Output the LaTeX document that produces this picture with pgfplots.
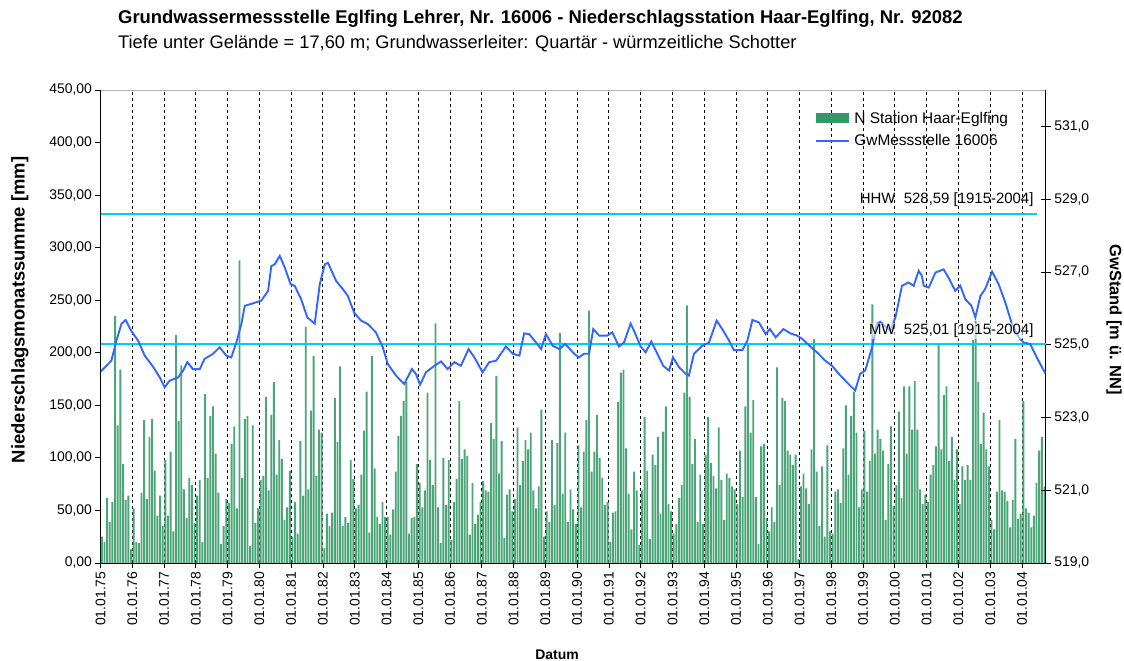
\documentclass[border=0pt]{standalone}
\usepackage{pgfplots}
\pgfplotsset{compat=1.18}
\usepackage{pgfplotstable}
\usepackage{fontspec}
\setmainfont{Liberation Sans}
\definecolor{barGreen}{RGB}{51,153,102}
\definecolor{gwBlue}{RGB}{51,102,255}
\definecolor{refCyan}{RGB}{0,204,255}

\pgfplotstableread{
n
25
20
62
39
58
235
131
184
94
60
64
13
52
20
19
67
136
61
120
137
88
45
64
35
98
45
106
30
217
135
188
70
43
81
74
38
64
79
20
161
81
140
149
104
67
18
35
61
57
113
130
52
288
81
137
140
16
131
38
52
79
83
158
69
141
172
84
117
99
41
53
88
25
58
28
116
64
225
70
145
197
83
127
124
14
47
35
48
157
115
187
35
44
38
98
80
52
55
84
126
163
29
197
90
44
37
58
44
44
27
51
87
121
140
154
172
28
43
44
94
76
53
69
162
98
74
228
53
19
100
55
98
22
58
80
154
99
108
102
27
76
37
46
58
78
69
68
133
118
178
85
116
24
65
70
49
61
129
74
97
117
108
124
69
52
73
146
25
49
39
117
55
114
219
66
124
39
70
51
37
112
53
106
136
240
87
106
141
100
81
55
58
20
48
49
153
181
184
109
66
32
87
69
17
69
139
88
23
103
93
120
47
125
149
56
49
28
37
62
74
162
245
158
94
118
39
84
37
103
139
95
83
71
129
79
41
85
81
73
70
56
107
63
149
208
124
155
63
18
111
113
43
30
53
39
186
74
157
154
107
103
93
103
4
73
85
71
56
108
213
87
35
92
25
112
30
28
68
70
57
109
150
84
140
163
124
53
70
126
68
97
246
104
127
118
107
41
94
130
54
74
144
62
168
104
168
127
173
127
70
56
65
58
84
93
111
208
108
160
168
97
120
79
108
56
92
79
93
79
212
230
172
113
143
108
92
41
32
68
136
69
68
59
34
60
118
42
47
154
52
48
34
45
76
107
120
73
}\bars

\pgfplotstableread{
x y
-0.4 524.26
3.6 524.56
5.5 525.11
7.4 525.57
9.0 525.68
11.1 525.38
13.7 525.11
16.2 524.70
19.3 524.40
21.9 524.10
23.7 523.83
25.6 524.01
28.8 524.10
30.7 524.29
32.3 524.52
34.4 524.33
37.0 524.33
38.8 524.61
42.0 524.75
44.5 524.93
47.0 524.70
48.9 524.65
50.8 525.06
52.7 525.57
54.0 526.07
56.4 526.12
60.2 526.21
62.8 526.48
64.0 527.16
65.3 527.21
67.2 527.44
69.1 527.12
71.3 526.66
72.8 526.62
75.3 526.25
77.6 525.75
80.4 525.58
82.3 526.66
84.2 527.21
85.4 527.25
88.5 526.75
91.0 526.53
92.9 526.34
95.3 525.88
97.9 525.66
100.4 525.57
103.5 525.34
106.1 524.93
108.0 524.47
111.1 524.15
114.2 523.92
117.1 524.33
118.6 524.20
120.2 523.90
122.4 524.24
125.6 524.42
128.1 524.54
130.6 524.33
133.1 524.52
135.6 524.42
138.5 524.88
140.7 524.65
143.8 524.24
146.3 524.52
148.9 524.56
152.6 524.95
155.2 524.75
157.7 524.70
159.5 525.31
161.4 525.29
164.0 525.06
165.9 524.88
167.7 525.29
170.3 524.97
172.8 524.88
175.0 525.02
178.4 524.75
180.2 524.65
182.1 524.75
184.0 524.75
185.6 525.43
187.8 525.25
190.9 525.25
192.8 525.34
195.3 524.95
197.2 525.06
199.7 525.58
201.0 525.38
203.5 524.95
205.4 524.79
207.5 525.09
209.8 524.75
212.0 524.42
214.2 524.29
215.7 524.65
218.0 524.38
220.5 524.20
221.7 524.15
223.6 524.75
226.8 524.97
229.3 525.06
232.2 525.66
234.3 525.43
236.9 525.11
238.7 524.85
241.9 524.85
243.8 525.11
245.7 525.68
248.2 525.61
250.7 525.29
252.3 525.43
254.5 525.20
257.4 525.43
260.1 525.31
262.6 525.25
264.5 525.16
268.3 524.90
270.1 524.79
273.2 524.56
275.8 524.42
278.3 524.20
280.8 524.01
284.5 523.74
286.4 524.20
288.3 524.29
290.9 524.93
292.7 525.57
294.0 525.63
297.8 525.38
299.7 525.75
302.2 526.62
304.7 526.71
306.6 526.62
308.5 527.03
309.7 526.89
310.4 526.62
312.3 526.57
314.8 526.98
317.9 527.07
319.8 526.84
322.3 526.48
324.2 526.62
326.1 526.25
328.4 526.07
329.9 525.75
331.8 526.34
333.6 526.53
336.2 527.01
338.7 526.66
341.2 526.16
343.7 525.57
346.3 525.20
348.1 525.06
350.6 525.02
353.1 524.65
356.3 524.21
}\gw

\begin{document}
\begin{tikzpicture}
\path[use as bounding box] (0,0) rectangle (1124bp,661bp);
\node[anchor=west, inner sep=0pt, font=\bfseries\fontsize{18.5}{21}\selectfont] at (118bp,642bp) {Grundwassermessstelle Eglfing Lehrer, Nr. 16006 - Niederschlagsstation Haar-Eglfing, Nr. 92082};
\node[anchor=west, inner sep=0pt, font=\fontsize{18.3}{21}\selectfont] at (118bp,617bp) {Tiefe unter Gelände = 17,60 m; Grundwasserleiter: Quartär - würmzeitliche Schotter};

\begin{axis}[
  at={(100.5bp,98bp)}, anchor=south west,
  scale only axis, width=945.3bp, height=473bp,
  xmin=-0.5, xmax=356.5, ymin=0, ymax=450,
  axis x line*=bottom, axis y line*=left,
  axis line style={black, line width=0.8bp, -},
  xtick={-0.5,11.5,...,347.5},
  xticklabels={01.01.75,01.01.76,01.01.77,01.01.78,01.01.79,01.01.80,01.01.81,01.01.82,01.01.83,01.01.84,01.01.85,01.01.86,01.01.87,01.01.88,01.01.89,01.01.90,01.01.91,01.01.92,01.01.93,01.01.94,01.01.95,01.01.96,01.01.97,01.01.98,01.01.99,01.01.00,01.01.01,01.01.02,01.01.03,01.01.04},
  xticklabel style={rotate=90, anchor=east, font=\fontsize{14}{16}\selectfont},
  ytick={0,50,...,450},
  scaled y ticks=false,
  /pgf/number format/assume math mode=true,
  yticklabel style={font=\fontsize{14}{16}\selectfont, /pgf/number format/.cd, fixed, fixed zerofill, precision=2, use comma, 1000 sep={}},
  tick align=outside, major tick length=5bp,
  tick style={black, line width=0.8bp},
  xmajorgrids,
  major grid style={black, dash pattern=on 3bp off 3bp, line width=0.9bp},
  ylabel={Niederschlagsmonatssumme [mm]},
  ylabel style={at={(axis description cs:-0.0852,0.535)}, anchor=center, font=\bfseries\fontsize{18.5}{21}\selectfont},
  xlabel={Datum},
  xlabel style={at={(axis description cs:0.483,-0.1945)}, anchor=center, font=\bfseries\fontsize{14}{16}\selectfont},
  legend cell align=left,
  legend style={at={(axis description cs:0.756,0.958)}, anchor=north west, draw=none, fill=none,
    font=\fontsize{15.5}{18}\selectfont, row sep=6bp, inner sep=0pt,
    nodes={inner xsep=4bp}},
]
\addplot[ybar, bar width=1.9bp, bar shift=0pt, fill=barGreen!88!white, draw=none,
  legend image code/.code={\fill[barGreen] (0bp,-5bp) rectangle (33bp,5bp);}]
  table[x expr=\coordindex, y=n] {\bars};
\addlegendentry{N Station Haar-Eglfing}
\addlegendimage{legend image code/.code={\draw[gwBlue, line width=2bp] (0bp,0bp) -- (33bp,0bp);}}
\addlegendentry{GwMessstelle 16006}
\draw[gray!60, line width=0.8bp] (rel axis cs:0,1) -- (rel axis cs:1,1);
\end{axis}

\begin{axis}[
  at={(100.5bp,98bp)}, anchor=south west,
  scale only axis, width=945.3bp, height=473bp,
  xmin=-0.5, xmax=356.5, ymin=519, ymax=532,
  axis x line=none, axis y line*=right,
  axis line style={black, line width=0.8bp, -},
  ytick={519,521,...,531},
  /pgf/number format/assume math mode=true,
  yticklabel style={font=\fontsize{14}{16}\selectfont, /pgf/number format/.cd, fixed, fixed zerofill, precision=1, use comma, 1000 sep={}},
  tick align=center, major tick length=10bp,
  tick style={black, line width=0.8bp},
  ylabel={GwStand [m ü. NN]},
  ylabel style={at={(axis description cs:1.0722,0.514)}, anchor=center, rotate=180, font=\bfseries\fontsize{16.5}{19}\selectfont},
]
\addplot[refCyan, line width=2.2bp] coordinates {(-0.5,528.59) (353.3,528.59)};
\addplot[refCyan, line width=2.2bp] coordinates {(-0.5,525.01) (356.5,525.01)};
\addplot[gwBlue, line width=1.9bp] table[x=x, y=y] {\gw};
\node[anchor=south east, inner sep=1bp, font=\fontsize{15}{18}\selectfont] at (axis cs:352.3,528.75) {HHW\ \ 528,59 [1915-2004]};
\node[anchor=south east, inner sep=1bp, fill=white, fill opacity=0.55, text opacity=1, font=\fontsize{15}{18}\selectfont] at (axis cs:352.3,525.15) {MW\ \ 525,01 [1915-2004]};
\end{axis}
\end{tikzpicture}
\end{document}
